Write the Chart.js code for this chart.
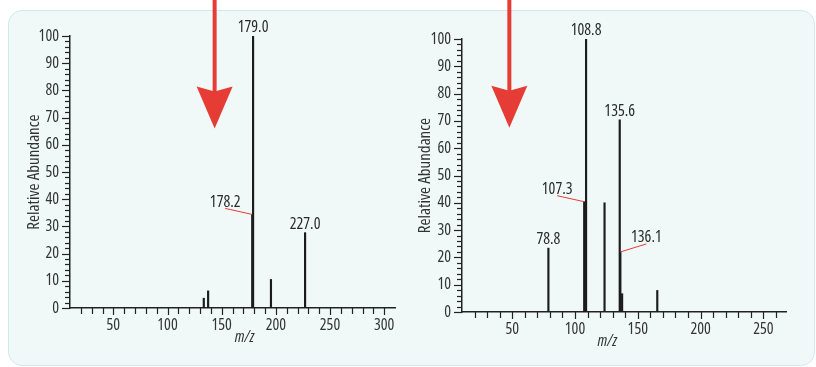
<!DOCTYPE html>
<html>
<head>
<meta charset="utf-8">
<script src="https://cdn.jsdelivr.net/npm/chart.js@4.4.1/dist/chart.umd.min.js"></script>
<style>
html, body { margin: 0; padding: 0; background: #fff; }
body { width: 816px; height: 367px; position: relative; overflow: hidden; }
.panel { position: absolute; left: 8px; top: 10px; width: 807px; height: 356px; background: #f0f8f8;
         border: 1px solid #d2e9ec; border-radius: 14px; box-sizing: border-box; }
.box { position: absolute; top: 0; width: 408px; height: 367px; }
</style>
</head>
<body>
<div class="panel"></div>
<div class="box" style="left:0"><canvas id="leftChart" width="408" height="367"></canvas></div>
<div class="box" style="left:408px"><canvas id="rightChart" width="408" height="367"></canvas></div>
<script>
// Open Sans is variable, 'condensed' gives the narrow look of the original
const fontFamily = "'Open Sans', 'DejaVu Sans Condensed', sans-serif";
const stretch = 'condensed';

// axes
const yTicks = [0, 10, 20, 30, 40, 50, 60, 70, 80, 90, 100];
const leftXTicks = [50, 100, 150, 200, 250, 300];
const rightXTicks = [50, 100, 150, 200, 250];

// left spectrum
const leftMz = [133.5, 137.5, 178.2, 179.0, 195.5, 227.0];
const leftAbund = [3.6, 6.3, 34.4, 100, 10.5, 27.7];
const leftPeakText = ['', '', '178.2', '179.0', '', '227.0'];

// right spectrum
const rightMz = [78.8, 107.3, 108.8, 123.5, 135.6, 136.1, 137.5, 165.5];
const rightAbund = [23.4, 40.4, 100, 40, 70.4, 22, 6.7, 7.9];
const rightPeakText = ['78.8', '107.3', '108.8', '', '135.6', '136.1', '', ''];

// labels that sit on a red leader line (offset in px from the peak top)
const leftLeaders = { '178.2': [-27, -6] };
const rightLeaders = { '107.3': [-27, -6], '136.1': [26, -8] };

const arrowRed = '#e53c35';

const spectrumDecor = {
  id: 'spectrumDecor',
  afterDraw(chart, args, opts) {
    const ctx = chart.ctx;
    const x = chart.scales.x;
    const y = chart.scales.y;
    ctx.save();

    // minor + major ticks
    ctx.strokeStyle = '#222';
    ctx.lineWidth = 1.2;
    for (let v = 0; v <= 100; v += 2) {
      const py = Math.round(y.getPixelForValue(v)) + 0.5;
      const len = v % 10 === 0 ? 8 : 5;
      ctx.beginPath();
      ctx.moveTo(x.left - len, py);
      ctx.lineTo(x.left, py);
      ctx.stroke();
    }
    for (let v = 20; v <= opts.lastTick; v += 10) {
      const px = Math.round(x.getPixelForValue(v)) + 0.5;
      const len = v % 50 === 0 ? 7 : 6;
      ctx.beginPath();
      ctx.moveTo(px, y.bottom);
      ctx.lineTo(px, y.bottom + len);
      ctx.stroke();
    }

    // peak labels
    const ds = chart.data.datasets[0];
    ctx.font = stretch + ' 16px ' + fontFamily;
    ctx.fillStyle = '#2a2a2a';
    ctx.textAlign = 'center';
    ctx.textBaseline = 'alphabetic';
    ds.data.forEach((p, i) => {
      const txt = opts.text[i];
      if (!txt) return;
      const px = x.getPixelForValue(p.x);
      const py = y.getPixelForValue(p.y);
      const lead = opts.leaders[txt];
      if (lead) {
        const ex = px + lead[0], ey = py + lead[1];
        ctx.strokeStyle = arrowRed;
        ctx.lineWidth = 1;
        ctx.beginPath();
        ctx.moveTo(px, py);
        ctx.lineTo(ex, ey);
        ctx.stroke();
        ctx.fillText(txt, ex, ey - 1.5);
      } else {
        ctx.fillText(txt, px, py - 4);
      }
    });

    // x axis title
    ctx.font = 'italic ' + stretch + ' 16px ' + fontFamily;
    ctx.fillStyle = '#333';
    ctx.fillText('m/z', x.getPixelForValue(opts.titleAt), y.bottom + 34);

    // red arrow
    const ax = x.getPixelForValue(opts.arrow.mz);
    const tip = y.getPixelForValue(opts.arrow.tip);
    ctx.fillStyle = arrowRed;
    ctx.fillRect(ax - 2, 0, 4, tip - 36);
    ctx.beginPath();
    ctx.moveTo(ax - 18, tip - 42);
    ctx.lineTo(ax, tip - 37);
    ctx.lineTo(ax + 18, tip - 42);
    ctx.lineTo(ax, tip);
    ctx.closePath();
    ctx.fill();

    ctx.restore();
  }
};

function makeChart(id, mz, abund, xTicks, setup) {
  const ctx = document.getElementById(id).getContext('2d');
  return new Chart(ctx, {
    type: 'bar',
    data: {
      datasets: [{
        data: mz.map((m, i) => ({ x: m, y: abund[i] })),
        backgroundColor: '#1c1c1c',
        barThickness: 1.5
      }]
    },
    options: {
      responsive: false,
      animation: false,
      layout: { padding: setup.padding },
      plugins: {
        legend: { display: false },
        tooltip: { enabled: false },
        spectrumDecor: setup.decor
      },
      scales: {
        x: {
          type: 'linear',
          min: 10,
          max: setup.xMax,
          offset: false,
          grid: { display: false, drawTicks: false },
          border: { display: true, color: '#222', width: 1.5 },
          // weight slot carries the font-stretch keyword into the canvas font string
          ticks: { font: { family: fontFamily, size: 16, weight: stretch }, color: '#333', padding: 8, maxRotation: 0 },
          afterBuildTicks: s => { s.ticks = xTicks.map(v => ({ value: v })); },
          afterFit: s => { s.height = setup.xHeight; }
        },
        y: {
          min: 0,
          max: 100,
          grid: { display: false, drawTicks: false },
          border: { display: true, color: '#222', width: 1.5 },
          ticks: { font: { family: fontFamily, size: 16, weight: stretch }, color: '#333', padding: 11 },
          afterBuildTicks: s => { s.ticks = yTicks.map(v => ({ value: v })); },
          afterFit: s => { s.width = setup.yWidth; },
          title: {
            display: true,
            text: 'Relative Abundance',
            font: { family: fontFamily, size: 17, weight: stretch },
            color: '#333',
            padding: { top: 4, bottom: 4 }
          }
        }
      }
    },
    plugins: [spectrumDecor]
  });
}

makeChart('leftChart', leftMz, leftAbund, leftXTicks, {
  padding: { left: 20, right: 13, top: 36, bottom: 0 },
  yWidth: 50, xHeight: 59, xMax: 310,
  decor: { text: leftPeakText, leaders: leftLeaders, lastTick: 300, titleAt: 171, arrow: { mz: 143.5, tip: 66 } }
});

makeChart('rightChart', rightMz, rightAbund, rightXTicks, {
  padding: { left: 3, right: 30, top: 39, bottom: 0 },
  yWidth: 51, xHeight: 55, xMax: 268,
  decor: { text: rightPeakText, leaders: rightLeaders, lastTick: 260, titleAt: 125.7, arrow: { mz: 47.7, tip: 67.5 } }
});
</script>
</body>
</html>
